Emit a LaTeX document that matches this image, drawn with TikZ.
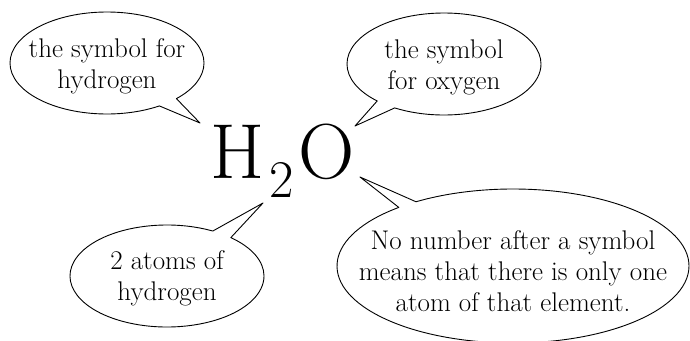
\documentclass[tikz,border=0pt]{standalone}
\usetikzlibrary{shapes.callouts}
\begin{document}
\begin{tikzpicture}[x=1pt,y=-1pt,line join=round,line cap=round,
    font=\fontsize{27}{31}\selectfont,
    bubble/.style={ellipse callout,draw,line width=0.9pt,inner sep=0pt,
      callout pointer arc=13},
    words/.style={align=center,inner sep=0pt}]
  \def \rxs{194pt}
  \def \rys{102pt}
  \useasboundingbox (0,0) rectangle (690,340);
  % the formula
  \node[anchor=base west,inner sep=0pt] (formula) at (210,178)
    {\fontsize{78}{78}\selectfont H\kern5pt\raisebox{-19pt}{\fontsize{53}{53}\selectfont 2}\kern5pt O};
  % where the pointers end
  \coordinate (tipH) at (200,123);
  \coordinate (tipO) at (355,126);
  \coordinate (tipTwo) at (263,203);
  \coordinate (tipOne) at (360,177);
  % the bubbles
  \node[bubble,minimum width=\rxs,minimum height=\rys,
    callout absolute pointer={(tipH)}] (symH) at (107,63) {};
  \node[bubble,minimum width=\rxs,minimum height=\rys,
    callout absolute pointer={(tipO)}] (symO) at (444,64) {};
  \node[bubble,minimum width=\rxs,minimum height=\rys,
    callout absolute pointer={(tipTwo)}] (atomsH) at (167,276) {};
  \node[bubble,minimum width=352pt,minimum height=154pt,callout pointer arc=7,
    callout absolute pointer={(tipOne)}] (atomO) at (513,266) {};
  % what they say
  \node[words] (symH-text) at ([yshift=-3pt]symH.center) {the symbol for\\hydrogen};
  \node[words] (symO-text) at ([yshift=-3pt]symO.center) {the symbol\\for oxygen};
  \node[words] (atomsH-text) at ([yshift=-2pt]atomsH.center) {2 atoms of\\hydrogen};
  \node[words] (atomO-text) at ([yshift=-5pt]atomO.center)
    {No number after a symbol\\means that there is only one\\atom of that element.};
\end{tikzpicture}
\end{document}
